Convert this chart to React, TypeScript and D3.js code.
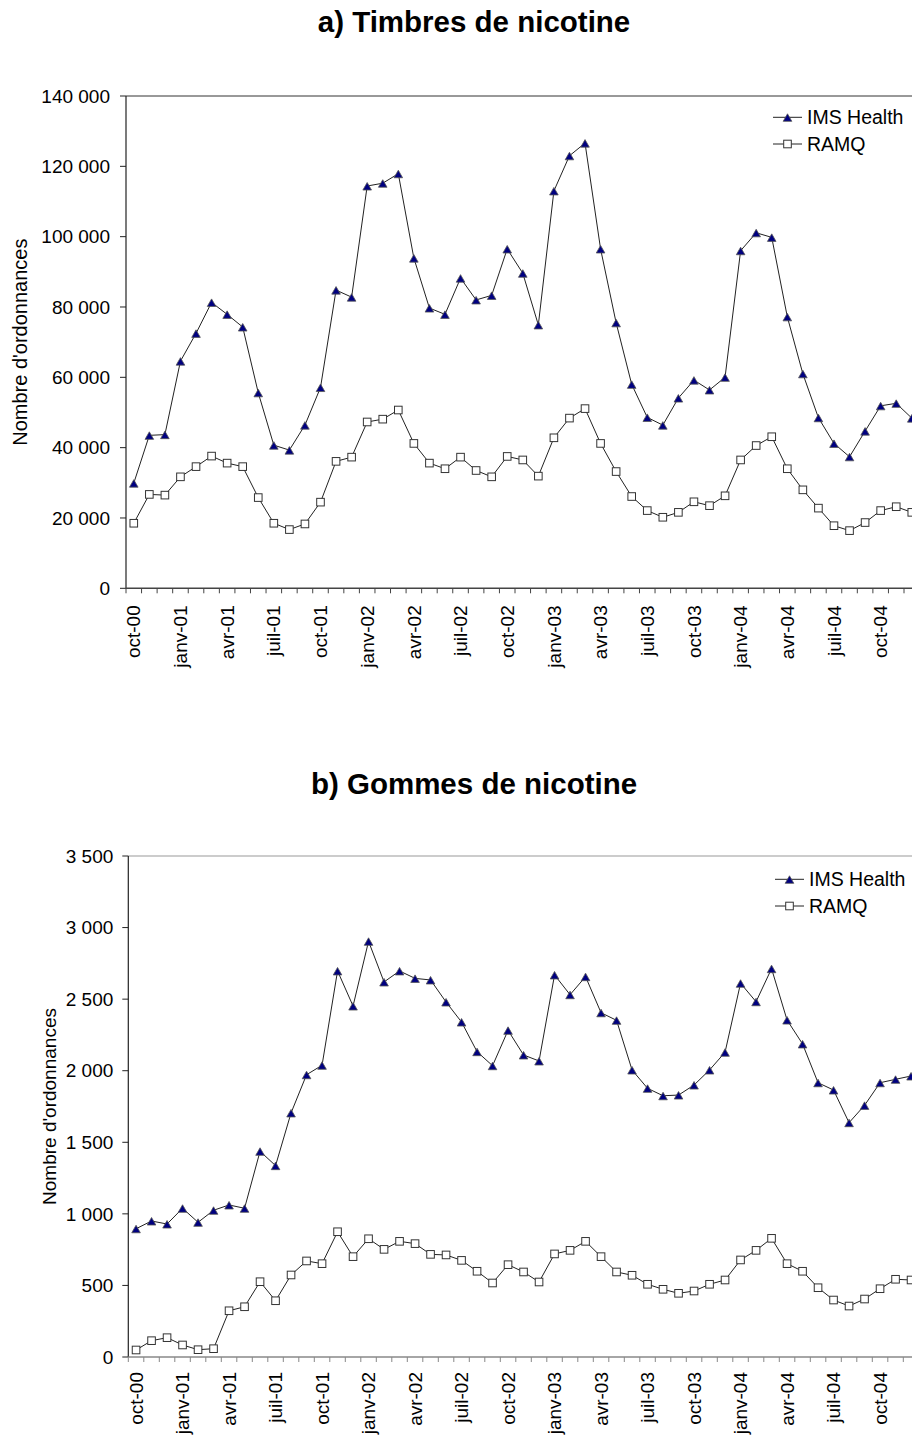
import React from "react";
import * as d3 from "d3";

const months: string[] = [
  "oct-00","nov-00","déc-00",
  "janv-01","févr-01","mars-01","avr-01","mai-01","juin-01","juil-01","août-01","sept-01","oct-01","nov-01","déc-01",
  "janv-02","févr-02","mars-02","avr-02","mai-02","juin-02","juil-02","août-02","sept-02","oct-02","nov-02","déc-02",
  "janv-03","févr-03","mars-03","avr-03","mai-03","juin-03","juil-03","août-03","sept-03","oct-03","nov-03","déc-03",
  "janv-04","févr-04","mars-04","avr-04","mai-04","juin-04","juil-04","août-04","sept-04","oct-04","nov-04","déc-04",
];

const timbresIMS: number[] = [
  29900, 43500, 43700, 64600, 72500, 81300, 77900, 74300, 55600, 40700, 39300, 46400,
  57100, 84800, 82800, 114400, 115200, 117900, 93900, 79700, 77900, 88200, 82000, 83300,
  96500, 89600, 74900, 113000, 123000, 126600, 96500, 75500, 58000, 48600, 46400, 54100,
  59200, 56400, 60000, 96000, 101100, 99800, 77200, 61000, 48500, 41200, 37400, 44700,
  51900, 52600, 48400,
];
const timbresRAMQ: number[] = [
  18500, 26700, 26500, 31700, 34600, 37600, 35600, 34600, 25800, 18500, 16700, 18300,
  24500, 36100, 37300, 47300, 48100, 50700, 41200, 35600, 34000, 37300, 33500, 31700,
  37500, 36500, 31900, 42800, 48400, 51100, 41200, 33200, 26100, 22100, 20200, 21600,
  24600, 23500, 26300, 36500, 40600, 43100, 34000, 28000, 22800, 17800, 16400, 18700,
  22100, 23200, 21600,
];
const gommesIMS: number[] = [
  896, 950, 929, 1039, 941, 1025, 1062, 1039, 1437, 1337, 1705, 1972,
  2038, 2697, 2452, 2904, 2620, 2697, 2645, 2634, 2480, 2340, 2133, 2035,
  2282, 2110, 2068, 2669, 2531, 2657, 2405, 2352, 2005, 1877, 1825, 1830,
  1900, 2005, 2129, 2611, 2482, 2713, 2354, 2187, 1916, 1865, 1637, 1758,
  1916, 1940, 1963,
];
const gommesRAMQ: number[] = [
  49, 114, 135, 84, 51, 58, 323, 351, 526, 393, 573, 671,
  652, 875, 701, 826, 752, 808, 792, 717, 713, 675, 599, 517,
  645, 594, 524, 720, 745, 808, 701, 594, 571, 508, 473, 445,
  461, 508, 538, 678, 745, 829, 652, 599, 484, 398, 356, 405,
  477, 543, 538,
];

const seriesNames: string[] = ["IMS Health", "RAMQ"];
const titles: string[] = ["a) Timbres de nicotine", "b) Gommes de nicotine"];
const yLabel = "Nombre d'ordonnances";

const fmt = d3
  .formatLocale({ decimal: ",", thousands: " ", grouping: [3], currency: ["", " €"] })
  .format(",d");

const FONT = "'Liberation Sans', Arial, Helvetica, sans-serif";

type PanelProps = {
  title: string;
  titleY: number;
  ims: number[];
  ramq: number[];
  x0: number;
  step: number;
  yTop: number;
  yBottom: number;
  yMax: number;
  yStep: number;
  tickRight: number;
  labelX: number;
  labelSize: number;
  legendY: number;
  legendX: number;
  frameColor: string;
  xAxisColor: string;
  labelGap: number;
};

function Triangle({ x, y }: { x: number; y: number }) {
  const s = 4.3;
  return (
    <path
      d={`M${x},${y - s}L${x + s},${y + s * 0.75}L${x - s},${y + s * 0.75}Z`}
      fill="#000080"
      stroke="#555"
      strokeWidth={0.8}
    />
  );
}
function Square({ x, y }: { x: number; y: number }) {
  const s = 3.8;
  return (
    <rect x={x - s} y={y - s} width={2 * s} height={2 * s} fill="#fff" stroke="#333" strokeWidth={1} />
  );
}

function Panel(p: PanelProps) {
  const x = d3
    .scaleBand<string>()
    .domain(months)
    .range([p.x0, p.x0 + p.step * months.length]);
  const cx = (m: string) => (x(m) as number) + x.bandwidth() / 2;
  const y = d3.scaleLinear().domain([0, p.yMax]).range([p.yBottom, p.yTop]);
  const yTicks = d3.range(0, p.yMax + 1, p.yStep);
  const line = d3
    .line<number>()
    .x((_, i) => cx(months[i]))
    .y((d) => y(d));
  const right = p.x0 + p.step * months.length;

  return (
    <g fontFamily={FONT} fill="#000">
      <text
        x={474}
        y={p.titleY}
        textAnchor="middle"
        fontWeight="bold"
        fontSize={29.5}
      >
        {p.title}
      </text>
      {/* frame top */}
      <line x1={p.x0} x2={right} y1={p.yTop} y2={p.yTop} stroke={p.frameColor} strokeWidth={1} />
      <line x1={right} x2={right} y1={p.yTop} y2={p.yBottom} stroke={p.frameColor} strokeWidth={1} />
      {/* y axis */}
      <line x1={p.x0} x2={p.x0} y1={p.yTop} y2={p.yBottom} stroke="#222" strokeWidth={1.2} />
      {yTicks.map((t) => (
        <g key={t}>
          <line x1={p.x0 - 6} x2={p.x0} y1={y(t)} y2={y(t)} stroke="#222" strokeWidth={1} />
          <text x={p.tickRight} y={y(t)} dy="0.35em" textAnchor="end" fontSize={19}>
            {fmt(t)}
          </text>
        </g>
      ))}
      <text
        transform={`translate(${p.labelX},${(p.yTop + p.yBottom) / 2}) rotate(-90)`}
        textAnchor="middle"
        dy="0.35em"
        fontSize={p.labelSize}
      >
        {yLabel}
      </text>
      {/* x axis */}
      <line x1={p.x0} x2={right} y1={p.yBottom} y2={p.yBottom} stroke={p.xAxisColor} strokeWidth={1.5} />
      {d3.range(months.length + 1).map((i) => (
        <line
          key={i}
          x1={p.x0 + i * p.step}
          x2={p.x0 + i * p.step}
          y1={p.yBottom}
          y2={p.yBottom + 5}
          stroke={p.xAxisColor}
          strokeWidth={1}
        />
      ))}
      {months.map((m, i) =>
        i % 3 === 0 ? (
          <text
            key={m}
            transform={`translate(${cx(m)},${p.yBottom + p.labelGap}) rotate(-90)`}
            textAnchor="end"
            dy="0.35em"
            fontSize={19}
          >
            {m}
          </text>
        ) : null
      )}
      {/* series */}
      <path d={line(p.ramq) || ""} fill="none" stroke="#222" strokeWidth={1} />
      <path d={line(p.ims) || ""} fill="none" stroke="#222" strokeWidth={1} />
      {p.ramq.map((v, i) => (
        <Square key={"r" + i} x={cx(months[i])} y={y(v)} />
      ))}
      {p.ims.map((v, i) => (
        <Triangle key={"t" + i} x={cx(months[i])} y={y(v) + 0.8} />
      ))}
      {/* legend */}
      {seriesNames.map((n, i) => {
        const ly = p.legendY + i * 26.7;
        return (
          <g key={n}>
            <line x1={p.legendX} x2={p.legendX + 29} y1={ly} y2={ly} stroke="#222" strokeWidth={1} />
            {i === 0 ? <Triangle x={p.legendX + 14.5} y={ly + 0.8} /> : <Square x={p.legendX + 14.5} y={ly} />}
            <text x={p.legendX + 34} y={ly} dy="0.35em" fontSize={19.5}>
              {n}
            </text>
          </g>
        );
      })}
    </g>
  );
}

export default function App() {
  return (
    <svg
      width={912}
      height={1437}
      style={{ position: "absolute", left: 0, top: 0, background: "#fff" }}
    >
      <rect x={0} y={0} width={912} height={1437} fill="#fff" />
      <Panel
        title={titles[0]}
        titleY={32}
        ims={timbresIMS}
        ramq={timbresRAMQ}
        x0={126}
        step={15.56}
        yTop={96}
        yBottom={588.3}
        yMax={140000}
        yStep={20000}
        tickRight={110}
        labelX={20}
        labelSize={20}
        legendY={117.3}
        legendX={773}
        frameColor="#333"
        xAxisColor="#444"
        labelGap={17}
      />
      <Panel
        title={titles[1]}
        titleY={794}
        ims={gommesIMS}
        ramq={gommesRAMQ}
        x0={128.3}
        step={15.5}
        yTop={856}
        yBottom={1357}
        yMax={3500}
        yStep={500}
        tickRight={113.3}
        labelX={49}
        labelSize={19}
        legendY={879.3}
        legendX={775}
        frameColor="#999"
        xAxisColor="#888"
        labelGap={15}
      />
    </svg>
  );
}
